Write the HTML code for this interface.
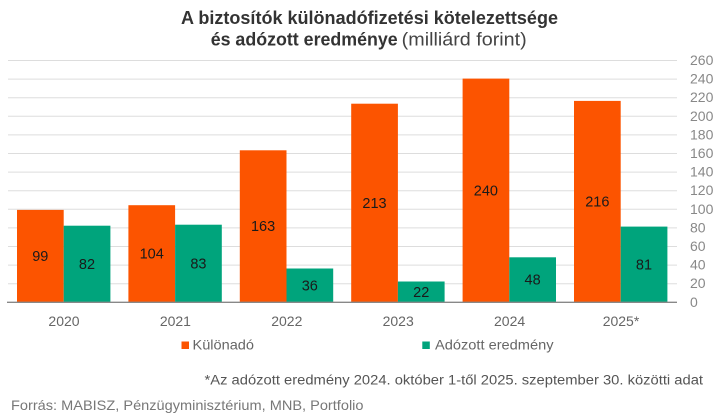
<!DOCTYPE html>
<html>
<head>
<meta charset="utf-8">
<style>
html,body{margin:0;padding:0;background:#fff;}
svg{display:block;}
text{font-family:"Liberation Sans",Arial,sans-serif;}
</style>
</head>
<body>
<svg width="718" height="417" viewBox="0 0 718 417" xmlns="http://www.w3.org/2000/svg">
<rect width="718" height="417" fill="#fff"/>
<!-- Title -->
<text x="181" y="24" font-size="18" font-weight="bold" fill="#333" textLength="377" lengthAdjust="spacingAndGlyphs">A biztosítók különadófizetési kötelezettsége</text>
<text x="210.7" y="45.5" font-size="18" font-weight="bold" fill="#333" textLength="187" lengthAdjust="spacingAndGlyphs">és adózott eredménye</text>
<text x="401.7" y="45.5" font-size="18" fill="#444" textLength="125" lengthAdjust="spacingAndGlyphs">(milliárd forint)</text>

<!-- Gridlines -->
<g stroke="#dddddd" stroke-width="1">
<line x1="8" x2="677" y1="60.5" y2="60.5"/>
<line x1="8" x2="677" y1="79.1" y2="79.1"/>
<line x1="8" x2="677" y1="97.7" y2="97.7"/>
<line x1="8" x2="677" y1="116.3" y2="116.3"/>
<line x1="8" x2="677" y1="134.9" y2="134.9"/>
<line x1="8" x2="677" y1="153.5" y2="153.5"/>
<line x1="8" x2="677" y1="172.1" y2="172.1"/>
<line x1="8" x2="677" y1="190.7" y2="190.7"/>
<line x1="8" x2="677" y1="209.3" y2="209.3"/>
<line x1="8" x2="677" y1="227.9" y2="227.9"/>
<line x1="8" x2="677" y1="246.5" y2="246.5"/>
<line x1="8" x2="677" y1="265.1" y2="265.1"/>
<line x1="8" x2="677" y1="283.7" y2="283.7"/>
</g>

<!-- Y tick labels -->
<g font-size="14" fill="#888">
<text x="690" y="65">260</text>
<text x="690" y="83.6">240</text>
<text x="690" y="102.2">220</text>
<text x="690" y="120.8">200</text>
<text x="690" y="139.4">180</text>
<text x="690" y="158">160</text>
<text x="690" y="176.6">140</text>
<text x="690" y="195.2">120</text>
<text x="690" y="213.8">100</text>
<text x="690" y="232.4">80</text>
<text x="690" y="251">60</text>
<text x="690" y="269.6">40</text>
<text x="690" y="288.2">20</text>
<text x="690" y="306.8">0</text>
</g>

<!-- Bars -->
<g fill="#fc5400">
<rect x="17" y="209.9" width="46.7" height="92.1"/>
<rect x="128.4" y="205.2" width="46.7" height="96.8"/>
<rect x="239.8" y="150.3" width="46.7" height="151.7"/>
<rect x="351.2" y="103.7" width="46.7" height="198.3"/>
<rect x="462.6" y="78.6" width="46.7" height="223.4"/>
<rect x="574" y="100.9" width="46.7" height="201.1"/>
</g>
<g fill="#00a47c">
<rect x="63.7" y="225.7" width="46.7" height="76.3"/>
<rect x="175.1" y="224.7" width="46.7" height="77.3"/>
<rect x="286.5" y="268.5" width="46.7" height="33.5"/>
<rect x="397.9" y="281.5" width="46.7" height="20.5"/>
<rect x="509.3" y="257.3" width="46.7" height="44.7"/>
<rect x="620.7" y="226.6" width="46.7" height="75.4"/>
</g>

<!-- Axis baseline -->
<line x1="7" x2="677" y1="302.3" y2="302.3" stroke="#888" stroke-width="1.3"/>

<!-- Value labels -->
<g font-size="14.5" fill="#1a1a1a" text-anchor="middle">
<text x="40.3" y="261">99</text>
<text x="87" y="269">82</text>
<text x="151.7" y="258.6">104</text>
<text x="198.4" y="268.4">83</text>
<text x="263.1" y="231.2">163</text>
<text x="309.8" y="290.3">36</text>
<text x="374.5" y="207.9">213</text>
<text x="421.2" y="296.8">22</text>
<text x="485.9" y="195.3">240</text>
<text x="532.6" y="284.7">48</text>
<text x="597.3" y="206.5">216</text>
<text x="644" y="269.3">81</text>
</g>

<!-- Category labels -->
<g font-size="14" fill="#666" text-anchor="middle">
<text x="64" y="326">2020</text>
<text x="175.4" y="326">2021</text>
<text x="286.8" y="326">2022</text>
<text x="398.2" y="326">2023</text>
<text x="509.6" y="326">2024</text>
<text x="621" y="326">2025*</text>
</g>

<!-- Legend -->
<rect x="181.5" y="341.5" width="7.5" height="7.5" fill="#fc5400"/>
<text x="192.5" y="349.3" font-size="14" fill="#666" textLength="61.5" lengthAdjust="spacingAndGlyphs">Különadó</text>
<rect x="422.3" y="341.5" width="7.5" height="7.5" fill="#00a47c"/>
<text x="435" y="349.3" font-size="14" fill="#666" textLength="118.5" lengthAdjust="spacingAndGlyphs">Adózott eredmény</text>

<!-- Footnotes -->
<text x="204.5" y="384.3" font-size="13.5" fill="#555" textLength="498.5" lengthAdjust="spacingAndGlyphs">*Az adózott eredmény 2024. október 1-től 2025. szeptember 30. közötti adat</text>
<text x="11" y="410" font-size="14" fill="#777" textLength="352.5" lengthAdjust="spacingAndGlyphs">Forrás: MABISZ, Pénzügyminisztérium, MNB, Portfolio</text>
</svg>
</body>
</html>
